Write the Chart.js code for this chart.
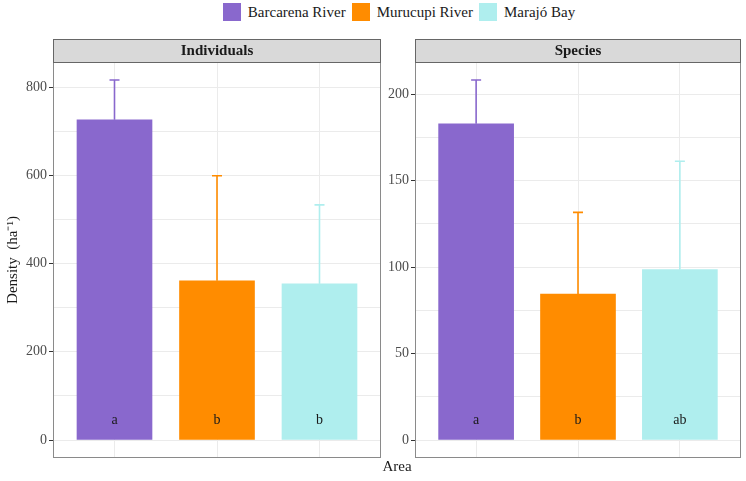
<!DOCTYPE html>
<html>
<head>
<meta charset="utf-8">
<script src="https://cdn.jsdelivr.net/npm/chart.js@4"></script>
<style>
  body { margin: 0; background: #fff; font-family: "Liberation Serif", serif; }
  #wrap { position: relative; width: 746px; height: 481px; }
  canvas { position: absolute; top: 0; }
  #legend { position: absolute; top: 3px; left: 55px; width: 688px; display: flex; justify-content: center; font-family: "Liberation Serif", serif; font-size: 15px; color: #1a1a1a; }
  #legend .item { display: flex; align-items: center; margin: 0 3px; }
  #legend .box { width: 18px; height: 18px; margin-right: 7px; }
  #xtitle { position: absolute; left: 53px; width: 688px; top: 458px; text-align: center; font-family: "Liberation Serif", serif; font-size: 15px; color: #1a1a1a; }
</style>
</head>
<body>
<div id="wrap">
  <div id="legend"></div>
  <canvas id="indChart" width="384" height="481" style="left:0"></canvas>
  <canvas id="spChart" width="362" height="481" style="left:384px"></canvas>
  <div id="xtitle">Area</div>
</div>
<script>
const areas = ["Barcarena River", "Murucupi River", "Marajó Bay"];
const colors = ["#8968CD", "#FF8C00", "#AFEEEE"];

const indMean = [726, 361, 354];
const indSd = [90, 238, 179];
const indLetters = ["a", "b", "b"];
const indTicks = [0, 200, 400, 600, 800];
const indMinor = [100, 300, 500, 700];

const spMean = [183, 84.5, 98.6];
const spSd = [25.3, 47.2, 62.7];
const spLetters = ["a", "b", "ab"];
const spTicks = [0, 50, 100, 150, 200];
const spMinor = [25, 75, 125, 175];

// html legend across both panels
const legendEl = document.getElementById("legend");
areas.forEach((a, i) => {
  const item = document.createElement("div");
  item.className = "item";
  item.innerHTML = `<span class="box" style="background:${colors[i]}"></span><span>${a}</span>`;
  legendEl.appendChild(item);
});

const SERIF = "'Liberation Serif', serif";

// strip, border, error bars and letters
const panelPlugin = {
  id: "panel",
  afterDatasetsDraw(chart, args, opts) {
    const ctx = chart.ctx;
    const xs = chart.scales.x, ys = chart.scales.y;
    const means = chart.data.datasets[0].data;
    ctx.save();
    means.forEach((p, i) => {
      const px = xs.getPixelForValue(p.x);
      const yb = ys.getPixelForValue(p.y);
      const yt = ys.getPixelForValue(p.y + opts.sd[i]);
      ctx.strokeStyle = colors[i];
      ctx.lineWidth = 1.6;
      ctx.beginPath();
      ctx.moveTo(px, yb); ctx.lineTo(px, yt);
      ctx.moveTo(px - 5, yt); ctx.lineTo(px + 5, yt);
      ctx.stroke();
      ctx.fillStyle = "#1a1a1a";
      ctx.font = "14px " + SERIF;
      ctx.textAlign = "center";
      ctx.textBaseline = "middle";
      ctx.fillText(opts.letters[i], px, ys.getPixelForValue(0) - 20);
    });
    ctx.restore();
  },
  afterDraw(chart, args, opts) {
    const ctx = chart.ctx;
    const a = chart.chartArea;
    ctx.save();
    ctx.strokeStyle = "#8a8a8a";
    ctx.lineWidth = 1;
    ctx.strokeRect(a.left + 0.5, a.top + 0.5, a.right - a.left - 1, a.bottom - a.top - 1);
    const sh = 23;
    ctx.fillStyle = "#D9D9D9";
    ctx.fillRect(a.left, a.top - sh, a.right - a.left, sh);
    ctx.strokeStyle = "#666";
    ctx.strokeRect(a.left + 0.5, a.top - sh + 0.5, a.right - a.left - 1, sh);
    ctx.fillStyle = "#1a1a1a";
    ctx.font = "bold 15px " + SERIF;
    ctx.textAlign = "center";
    ctx.textBaseline = "middle";
    ctx.fillText(opts.title, (a.left + a.right) / 2, a.top - sh / 2 + 1);
    ctx.restore();
  }
};

function makeChart(id, title, means, sds, letters, major, minor, axisW, padRight, yTitle) {
  const top = Math.max(...means.map((m, i) => m + sds[i]));
  const lo = -0.05 * top, hi = 1.05 * top;
  return new Chart(document.getElementById(id), {
    type: "bar",
    data: {
      datasets: [{
        data: means.map((v, i) => ({ x: i + 1, y: v })),
        backgroundColor: colors,
        borderWidth: 0,
        barThickness: 75
      }]
    },
    plugins: [panelPlugin],
    options: {
      responsive: false,
      animation: false,
      devicePixelRatio: 1,
      layout: { padding: { top: 62, bottom: 23, right: padRight, left: 0 } },
      plugins: {
        legend: { display: false },
        tooltip: { enabled: false },
        panel: { title: title, sd: sds, letters: letters }
      },
      scales: {
        x: {
          type: "linear",
          min: 0.4, max: 3.6,
          offset: false,
          afterBuildTicks: s => { s.ticks = [1, 2, 3].map(v => ({ value: v })); },
          afterFit: s => { s.height = 0; },
          ticks: { display: false },
          grid: { color: "#EBEBEB", drawTicks: false, offset: false },
          border: { display: false }
        },
        y: {
          min: lo, max: hi,
          afterBuildTicks: s => { s.ticks = major.concat(minor).sort((p, q) => p - q).map(v => ({ value: v })); },
          afterFit: s => { s.width = axisW; },
          ticks: {
            font: { family: SERIF, size: 14 },
            color: "#4D4D4D",
            padding: 2,
            callback: v => major.includes(v) ? String(v) : ""
          },
          grid: {
            color: "#EBEBEB",
            tickLength: 4,
            tickColor: c => major.includes(c.tick.value) ? "#333" : "rgba(0,0,0,0)"
          },
          border: { display: false },
          title: {
            display: !!yTitle,
            text: yTitle || "",
            font: { family: SERIF, size: 15 },
            color: "#1a1a1a",
            padding: { top: 4, bottom: 0 }
          }
        }
      }
    }
  });
}

makeChart("indChart", "Individuals", indMean, indSd, indLetters, indTicks, indMinor, 53, 3, "Density  (ha\u207B\u00B9)");
makeChart("spChart", "Species", spMean, spSd, spLetters, spTicks, spMinor, 31, 5, null);
</script>
</body>
</html>
